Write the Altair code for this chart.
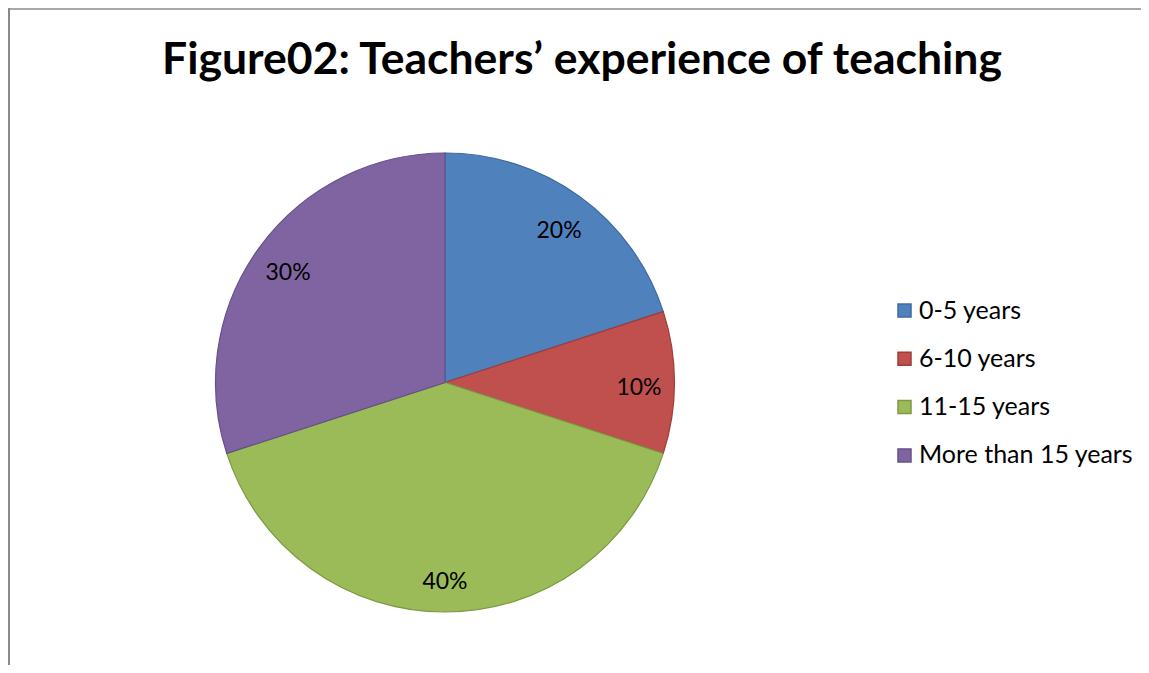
import altair as alt
import pandas as pd

categories = ["0-5 years", "6-10 years", "11-15 years", "More than 15 years"]
values = [20, 10, 40, 30]
labels = ["20%", "10%", "40%", "30%"]
fills = ["#4F81BD", "#C0504D", "#9BBB59", "#8064A2"]
strokes = ["#3E6AA0", "#9D3D3A", "#7C9A42", "#65508A"]

df = pd.DataFrame({"category": categories, "value": values, "label": labels,
                   "order": list(range(len(categories)))})

W, H = 1133, 657
CX, CY, R = 437, 374.5, 229.5
FONT = "Lato"

base = alt.Chart(df).encode(
    theta=alt.Theta("value:Q", stack=True),
    order=alt.Order("order:Q"),
)

pie = base.mark_arc(outerRadius=R, strokeWidth=1.2).encode(
    x=alt.value(CX), y=alt.value(CY),
    fill=alt.Fill("category:N", sort=categories,
                  scale=alt.Scale(domain=categories, range=fills),
                  legend=alt.Legend(title=None, orient="none", legendX=884, legendY=290,
                                    symbolType="square", symbolSize=169,
                                    symbolStrokeWidth=1.5,
                                    labelFont=FONT, labelFontSize=25, labelColor="black",
                                    labelOffset=2, rowPadding=22.3, labelLimit=400)),
    stroke=alt.Stroke("category:N", sort=categories,
                      scale=alt.Scale(domain=categories, range=strokes)),
)

text = base.mark_text(radius=194, font=FONT, fontSize=23, color="black", dy=5).encode(
    x=alt.value(CX), y=alt.value(CY), text="label:N",
)

frame = pd.DataFrame({"a": [0]})
left = alt.Chart(frame).mark_rule(color="#8a8a8a", strokeWidth=2).encode(
    x=alt.value(1), y=alt.value(0), y2=alt.value(H))
top = alt.Chart(frame).mark_rule(color="#8a8a8a", strokeWidth=1.5).encode(
    x=alt.value(0), x2=alt.value(W), y=alt.value(1))

chart = alt.layer(left, top, pie, text).properties(
    width=W, height=H, padding=0, background="white",
    autosize=alt.AutoSizeParams(type="none"),
    view=alt.ViewBackground(stroke="transparent", strokeWidth=0),
    title=alt.TitleParams("Figure02: Teachers’ experience of teaching", font=FONT,
                          fontSize=44.5, fontWeight="bold", color="black",
                          anchor="middle", baseline="alphabetic", offset=-111, dx=7.5),
)

chart.save("out.html", embed_options={"renderer": "svg", "actions": False})
